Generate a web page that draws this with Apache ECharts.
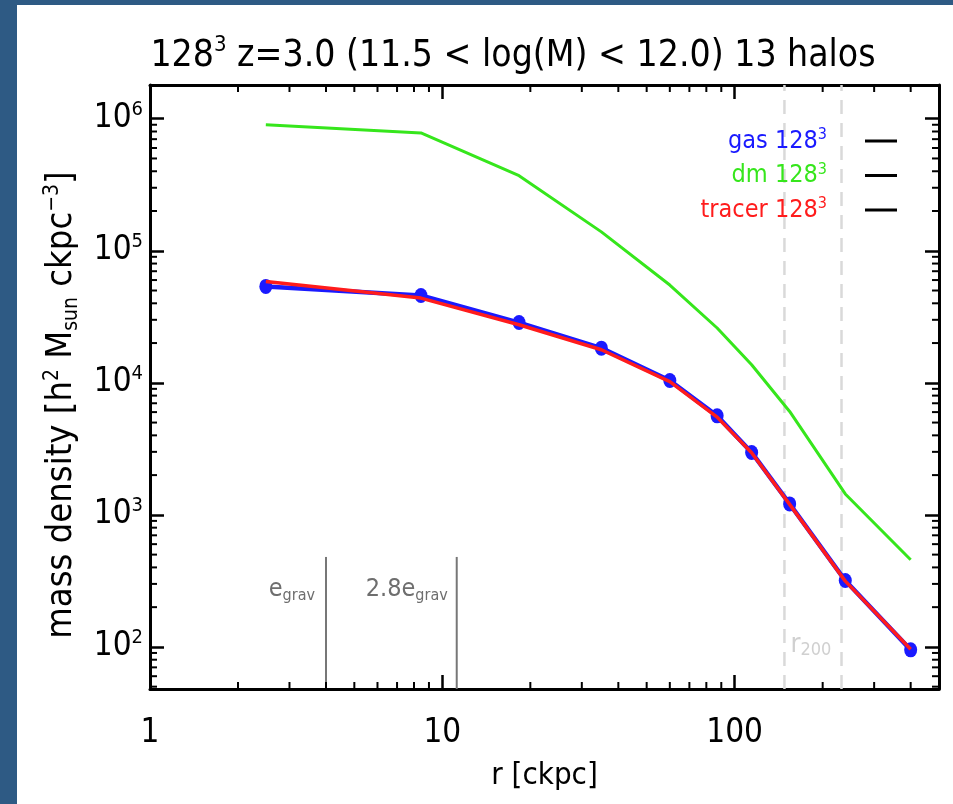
<!DOCTYPE html>
<html>
<head>
<meta charset="utf-8">
<title>Radial mass density profile</title>
<script src="https://cdn.jsdelivr.net/npm/echarts@6/dist/echarts.min.js"></script>
<style>
  html, body { margin: 0; padding: 0; background: #2e5a84; }
  #chart { width: 953px; height: 804px; }
</style>
</head>
<body>
<div id="chart"></div>
<script>
// Radial bins [ckpc] and stacked density profiles [h^2 Msun ckpc^-3]
const radius = [2.49, 8.45, 18.3, 35.0, 60.0, 87.1, 114.3, 154.2, 239, 400];
const gasDensity = [5.37e4, 4.58e4, 2.86e4, 1.83e4, 1.04e4, 5.62e3, 2.97e3, 1.21e3, 318, 95];
const tracerDensity = [5.85e4, 4.38e4, 2.75e4, 1.78e4, 1.02e4, 5.5e3, 2.95e3, 1.2e3, 315, 96];
const dmDensity = [9.0e5, 7.8e5, 3.7e5, 1.39e5, 5.5e4, 2.6e4, 1.37e4, 6.07e3, 1.44e3, 457];

// Gravitational softening markers and virial radius range
const softening = 4.0;
const softeningTimes28 = 11.2;
const softeningLineTop = 480;
const r200Lines = [148, 232];

// Axis ranges and tick labels
const xRange = [1, 500];
const yRange = [48, 1.8e6];
const xTickLabels = ['1', '10', '100'];
const yTickExponents = [2, 3, 4, 5, 6];

const seriesNames = ['gas 128³', 'dm 128³', 'tracer 128³'];

const FONT = "'Liberation Sans Narrow', 'DejaVu Sans Condensed', 'Open Sans', sans-serif";
const BLUE = '#1a1aff';
const GREEN = '#36e61c';
const RED = '#ff1c1c';
const MAJOR_LEN = 14;
const MINOR_LEN = 7;

function zip(xs, ys) { return xs.map((x, i) => [x, ys[i]]); }

function isPow10(v) {
  const l = Math.log10(v);
  return Math.abs(l - Math.round(l)) < 1e-6 ? Math.round(l) : null;
}

// minor tick positions (2..9 x 10^k) inside an axis range
function minorTicks(range) {
  const out = [];
  const k0 = Math.floor(Math.log10(range[0]));
  const k1 = Math.ceil(Math.log10(range[1]));
  for (let k = k0; k <= k1; k++) {
    for (let m = 2; m <= 9; m++) {
      const v = m * Math.pow(10, k);
      if (v > range[0] && v < range[1]) out.push(v);
    }
  }
  return out;
}

const tickStyle = { stroke: '#000', lineWidth: 2 };

function renderXMinor(params, api) {
  const cs = params.coordSys;
  const px = api.coord([api.value(0), api.value(1)])[0];
  const bottom = cs.y + cs.height;
  return {
    type: 'group',
    children: [
      { type: 'line', shape: { x1: px, y1: bottom, x2: px, y2: bottom - MINOR_LEN }, style: tickStyle },
      { type: 'line', shape: { x1: px, y1: cs.y, x2: px, y2: cs.y + MINOR_LEN }, style: tickStyle }
    ]
  };
}

function renderYMinor(params, api) {
  const cs = params.coordSys;
  const py = api.coord([api.value(0), api.value(1)])[1];
  const right = cs.x + cs.width;
  return {
    type: 'group',
    children: [
      { type: 'line', shape: { x1: cs.x, y1: py, x2: cs.x + MINOR_LEN, y2: py }, style: tickStyle },
      { type: 'line', shape: { x1: right, y1: py, x2: right - MINOR_LEN, y2: py }, style: tickStyle }
    ]
  };
}

const frameLine = { show: true, lineStyle: { color: '#000', width: 3 } };
const majorTick = { show: true, inside: true, length: MAJOR_LEN, lineStyle: { color: '#000', width: 2.5 } };

const softLabelRich = {
  e: { fontFamily: FONT, fontSize: 25, color: '#6e6e6e', lineHeight: 28 },
  g: { fontFamily: FONT, fontSize: 16, color: '#6e6e6e', verticalAlign: 'bottom' }
};

const chart = echarts.init(document.getElementById('chart'), null, { renderer: 'canvas' });

const option = {
  animation: false,
  backgroundColor: '#2e5a84',
  graphic: [{
    type: 'rect', z: -10, silent: true,
    shape: { x: 17, y: 5, width: 940, height: 800 },
    style: { fill: '#ffffff' }
  }],
  title: {
    text: '{a|128}{s|3}{a| z=3.0 (11.5 < log(M) < 12.0) 13 halos}',
    left: 508, top: 29, textAlign: 'center',
    textStyle: {
      fontWeight: 'normal',
      rich: {
        a: { fontFamily: FONT, fontSize: 37, fontWeight: 'normal', color: '#000', lineHeight: 44 },
        s: { fontFamily: FONT, fontSize: 22, fontWeight: 'normal', color: '#000', verticalAlign: 'top', lineHeight: 24 }
      }
    }
  },
  legend: {
    orient: 'vertical', align: 'right',
    right: 51, top: 122,
    icon: 'rect', itemWidth: 32, itemHeight: 3, itemGap: 8,
    selectedMode: false,
    formatter: name => '{t|' + name.replace('³', '') + '}{s|3}{g|}',
    textStyle: {
      fontFamily: FONT, fontSize: 25,
      rich: {
        t: { fontFamily: FONT, fontSize: 25, lineHeight: 28 },
        s: { fontFamily: FONT, fontSize: 16, verticalAlign: 'top' },
        g: { width: 33 }
      }
    },
    data: [
      { name: seriesNames[0], itemStyle: { color: '#000' }, lineStyle: { color: '#000' }, textStyle: { color: BLUE } },
      { name: seriesNames[1], itemStyle: { color: '#000' }, lineStyle: { color: '#000' }, textStyle: { color: GREEN } },
      { name: seriesNames[2], itemStyle: { color: '#000' }, lineStyle: { color: '#000' }, textStyle: { color: RED } }
    ]
  },
  grid: { left: 150, right: 14, top: 85, bottom: 115, containLabel: false },
  xAxis: [{
    type: 'log', logBase: 10, min: xRange[0], max: xRange[1],
    position: 'bottom',
    axisLine: frameLine, axisTick: majorTick, splitLine: { show: false },
    axisLabel: {
      margin: 28, showMinLabel: true, showMaxLabel: false,
      fontFamily: FONT, fontSize: 33, color: '#000',
      formatter: v => {
        const e = isPow10(v);
        if (e === null) return '';
        const s = String(Math.pow(10, e));
        return xTickLabels.includes(s) ? s : '';
      }
    },
    name: 'r [ckpc]', nameLocation: 'middle', nameGap: 71,
    nameTextStyle: { fontFamily: FONT, fontSize: 31, color: '#000' }
  }, {
    type: 'log', logBase: 10, min: xRange[0], max: xRange[1],
    position: 'top',
    axisLine: frameLine, axisTick: majorTick, splitLine: { show: false },
    axisLabel: { show: false }
  }],
  yAxis: [{
    type: 'log', logBase: 10, min: yRange[0], max: yRange[1],
    position: 'left',
    axisLine: frameLine, axisTick: majorTick, splitLine: { show: false },
    axisLabel: {
      margin: 7, showMinLabel: false, showMaxLabel: false,
      formatter: v => {
        const e = isPow10(v);
        if (e === null || !yTickExponents.includes(e)) return '';
        return '{b|10}{s|' + e + '}';
      },
      rich: {
        b: { fontFamily: FONT, fontSize: 33, color: '#000', lineHeight: 38 },
        s: { fontFamily: FONT, fontSize: 20, color: '#000', verticalAlign: 'top' }
      }
    },
    name: '{a|mass density [h}{s|2}{a| M}{d|sun}{a| ckpc}{s|\u22123}{a|]}',
    nameLocation: 'middle', nameGap: 68, nameRotate: 90,
    nameTextStyle: {
      padding: [0, 36, 0, 0],
      rich: {
        a: { fontFamily: FONT, fontSize: 36, color: '#000', lineHeight: 40 },
        s: { fontFamily: FONT, fontSize: 21, color: '#000', verticalAlign: 'top' },
        d: { fontFamily: FONT, fontSize: 21, color: '#000', verticalAlign: 'bottom' }
      }
    }
  }, {
    type: 'log', logBase: 10, min: yRange[0], max: yRange[1],
    position: 'right',
    axisLine: frameLine, axisTick: majorTick, splitLine: { show: false },
    axisLabel: { show: false }
  }],
  series: [
    {
      name: 'xMinorTicks', type: 'custom', silent: true, clip: false, z: 5,
      renderItem: renderXMinor,
      data: minorTicks(xRange).map(v => [v, yRange[0]])
    },
    {
      name: 'yMinorTicks', type: 'custom', silent: true, clip: false, z: 5,
      renderItem: renderYMinor,
      data: minorTicks(yRange).map(v => [xRange[0], v])
    },
    {
      name: 'eGrav', type: 'line', silent: true, z: 1,
      symbol: 'circle', symbolSize: 0, showSymbol: true,
      lineStyle: { color: '#777', width: 2 },
      data: [
        [softening, yRange[0]],
        {
          value: [softening, softeningLineTop],
          label: {
            show: true, position: 'left', distance: 11, offset: [0, 33],
            formatter: '{e|e}{g|grav}', rich: softLabelRich
          }
        }
      ]
    },
    {
      name: 'eGrav28', type: 'line', silent: true, z: 1,
      symbol: 'circle', symbolSize: 0, showSymbol: true,
      lineStyle: { color: '#777', width: 2 },
      data: [
        [softeningTimes28, yRange[0]],
        {
          value: [softeningTimes28, softeningLineTop],
          label: {
            show: true, position: 'left', distance: 9, offset: [0, 33],
            formatter: '{e|2.8e}{g|grav}', rich: softLabelRich
          }
        }
      ]
    },
    {
      name: 'r200a', type: 'line', silent: true, z: 1,
      symbol: 'circle', symbolSize: 0, showSymbol: true,
      lineStyle: { color: '#d9d9d9', width: 2.5, type: [14, 9] },
      data: [
        {
          value: [r200Lines[0], yRange[0]],
          label: {
            show: true, position: 'right', distance: 6, offset: [0, -44],
            formatter: '{r|r}{d|200}',
            rich: {
              r: { fontFamily: FONT, fontSize: 27, color: '#d0d0d0', lineHeight: 28 },
              d: { fontFamily: FONT, fontSize: 18, color: '#d0d0d0', verticalAlign: 'bottom' }
            }
          }
        },
        [r200Lines[0], yRange[1]]
      ]
    },
    {
      name: 'r200b', type: 'line', silent: true, z: 1,
      symbol: 'none',
      lineStyle: { color: '#d9d9d9', width: 2.5, type: [14, 9] },
      data: [[r200Lines[1], yRange[0]], [r200Lines[1], yRange[1]]]
    },
    {
      name: seriesNames[1], type: 'line', z: 2,
      symbol: 'none', color: GREEN,
      lineStyle: { color: GREEN, width: 3 },
      data: zip(radius, dmDensity)
    },
    {
      name: seriesNames[0], type: 'line', z: 3,
      symbol: 'circle', symbolSize: [13, 15], showSymbol: true, color: BLUE,
      itemStyle: { color: BLUE },
      lineStyle: { color: BLUE, width: 4.5 },
      data: zip(radius, gasDensity)
    },
    {
      name: seriesNames[2], type: 'line', z: 4,
      symbol: 'none', color: RED,
      lineStyle: { color: RED, width: 3.5 },
      data: zip(radius, tracerDensity)
    }
  ]
};

chart.setOption(option);
</script>
</body>
</html>
